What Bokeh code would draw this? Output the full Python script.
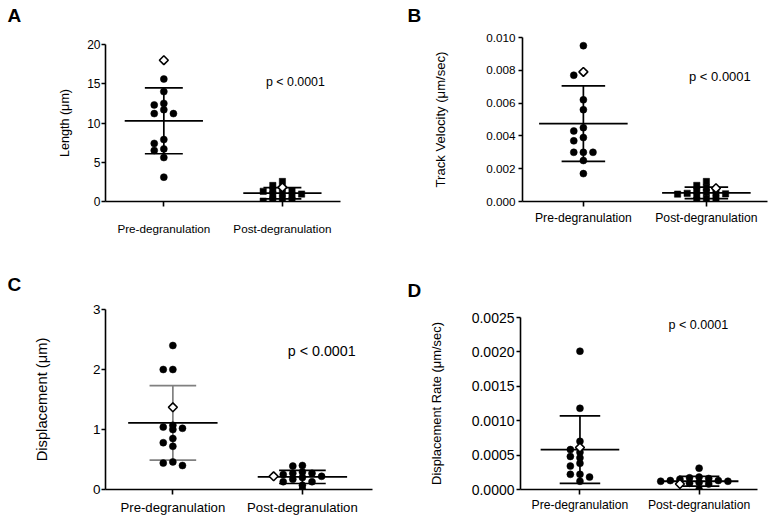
import math
from bokeh.plotting import figure
from bokeh.layouts import column, row
from bokeh.models import FixedTicker, Label, Title
from bokeh.embed import file_html
from bokeh.resources import INLINE

groups = ["Pre-degranulation", "Post-degranulation"]

# ---- A: Length (um)
length_pre = [15.6, 14.0, 12.5, 12.3, 11.7, 11.2, 11.2, 7.9, 7.4, 6.7, 6.5, 5.6, 3.1]
length_post = [2.55, 2.04, 1.45, 1.35, 1.3, 1.1, 0.95, 0.9, 0.76, 0.3, 0.2, 0.13, 0.05]
length_open = [18.0, 1.8]
length_mean = [10.28, 1.06]
length_sd = [4.2, 0.72]
length_ticks = [0, 5, 10, 15, 20]
length_tick_labels = ["0", "5", "10", "15", "20"]

# ---- B: Track velocity (um/sec)
velocity_pre = [0.0095, 0.0077, 0.0062, 0.0056, 0.0045, 0.0043, 0.0039, 0.0037,
                0.0030, 0.0030, 0.0030, 0.0025, 0.0017]
velocity_post = [0.00122, 0.00098, 0.00085, 0.00065, 0.00055, 0.00053, 0.0005,
                 0.00047, 0.00045, 0.00037, 0.00016, 0.00016, 0.00006]
velocity_open = [0.0079, 0.00081]
velocity_mean = [0.00475, 0.00053]
velocity_sd = [0.0023, 0.00035]
velocity_ticks = [0.0, 0.002, 0.004, 0.006, 0.008, 0.010]
velocity_tick_labels = ["0.000", "0.002", "0.004", "0.006", "0.008", "0.010"]

# ---- C: Displacement (um)
disp_pre = [2.4, 2.0, 2.0, 1.07, 1.04, 1.02, 1.0, 0.85, 0.78, 0.72, 0.46, 0.44, 0.40]
disp_post = [0.40, 0.39, 0.29, 0.27, 0.27, 0.25, 0.22, 0.20, 0.17, 0.13, 0.13, 0.07, 0.0]
disp_open = [1.37, 0.22]
disp_mean = [1.11, 0.21]
disp_sd = [0.62, 0.11]
disp_ticks = [0, 1, 2, 3]
disp_tick_labels = ["0", "1", "2", "3"]

# ---- D: Displacement rate (um/sec)
rate_pre = [0.00201, 0.00118, 0.00070, 0.00058, 0.00054, 0.00048, 0.00046, 0.00038,
            0.00034, 0.00022, 0.00022, 0.00018, 0.00012]
rate_post = [0.00031, 0.00018, 0.00017, 0.00016, 0.00015, 0.00013, 0.00013, 0.00012,
             0.00012, 0.00010, 0.00009, 0.00008, 0.0]
rate_open = [0.00061, 0.00008]
rate_mean = [0.00058, 0.00012]
rate_sd = [0.00049, 0.00007]
rate_ticks = [0.0, 0.0005, 0.0010, 0.0015, 0.0020, 0.0025]
rate_tick_labels = ["0.0000", "0.0005", "0.0010", "0.0015", "0.0020", "0.0025"]

p_text = "p < 0.0001"
FONT = "Liberation Sans"

panels = [
    dict(letter="A", ylabel="Length (\u03bcm)", pre=length_pre, post=length_post,
         open=length_open, mean=length_mean, sd=length_sd, ticks=length_ticks,
         tick_labels=length_tick_labels, ymax=20,
         w=387, h=250, fl=105, ft=44, fb=201, fr=340, xr=(0.508, 2.49),
         xfs="11.7px", yfs="12px", lfs="12.6px", pfs="12.4px",
         xso=15, yso=1, lso=12, mhw=0.33, chw=0.16, post_marker="square",
         err_colors=["black", "black"], ppos=(2.11, 15.2),
         loff=-98, lbase=20.7),
    dict(letter="B", ylabel="Track Velocity (\u03bcm/sec)", pre=velocity_pre, post=velocity_post,
         open=velocity_open, mean=velocity_mean, sd=velocity_sd, ticks=velocity_ticks,
         tick_labels=velocity_tick_labels, ymax=0.010,
         w=387, h=250, fl=135, ft=37, fb=201, fr=380, xr=(0.505, 2.497),
         xfs="12.2px", yfs="11.7px", lfs="13.1px", pfs="13px",
         xso=4, yso=3, lso=35, mhw=0.36, chw=0.177, post_marker="square",
         err_colors=["black", "black"], ppos=(2.11, 0.0076),
         loff=-115, lbase=20.7),
    dict(letter="C", ylabel="Displacement (\u03bcm)", pre=disp_pre, post=disp_post,
         open=disp_open, mean=disp_mean, sd=disp_sd, ticks=disp_ticks,
         tick_labels=disp_tick_labels, ymax=3,
         w=387, h=270, fl=105, ft=59, fb=239, fr=372, xr=(0.48, 2.541),
         xfs="13.2px", yfs="13.5px", lfs="14.7px", pfs="14.3px",
         xso=5, yso=1, lso=40, mhw=0.345, chw=0.18, post_marker="circle",
         err_colors=["#808080", "black"], ppos=(2.149, 2.31),
         loff=-98, lbase=39.3),
    dict(letter="D", ylabel="Displacement Rate (\u03bcm/sec)", pre=rate_pre, post=rate_post,
         open=rate_open, mean=rate_mean, sd=rate_sd, ticks=rate_ticks,
         tick_labels=rate_tick_labels, ymax=0.0025,
         w=387, h=270, fl=133, ft=67, fb=239, fr=370, xr=(0.501, 2.49),
         xfs="12.2px", yfs="14px", lfs="12.9px", pfs="12.6px",
         xso=3, yso=2, lso=25, mhw=0.33, chw=0.17, post_marker="circle",
         err_colors=["black", "black"], ppos=(1.994, 0.00239),
         loff=-113, lbase=45),
]


def swarm(values, ppy, slot, thr=4.2):
    """Greedy dot-plot placement: each point takes the nearest free column."""
    order = sorted(range(len(values)), key=lambda i: -values[i])
    placed = []
    ks = [0] * len(values)
    cands = [0]
    for n in range(1, 10):
        cands += [-n, n]
    for i in order:
        ypx = values[i] * ppy
        for c in cands:
            if all(not (pk == c and abs(py - ypx) < thr) for pk, py in placed):
                break
        placed.append((c, ypx))
        ks[i] = c
    return [k * slot for k in ks]


def make_panel(c):
    x0, x1 = c["xr"]
    ymax = c["ymax"]
    fw = c["fr"] - c["fl"]
    fh = c["fb"] - c["ft"]
    ppx = fw / (x1 - x0)
    ppy = fh / ymax
    p = figure(width=c["w"], height=c["h"], x_range=(x0, x1), y_range=(0, ymax),
               output_backend="svg", toolbar_location=None, title=None,
               min_border_left=c["fl"], min_border_top=c["ft"],
               min_border_bottom=c["h"] - c["fb"], min_border_right=c["w"] - c["fr"])
    try:
        p.frame_align = False
    except Exception:
        pass
    p.outline_line_color = None
    p.grid.visible = False
    p.background_fill_color = "white"
    p.border_fill_color = "white"

    for ax in (p.xaxis[0], p.yaxis[0]):
        ax.axis_line_width = 1.6
        ax.axis_line_color = "black"
        ax.major_tick_line_width = 1.6
        ax.major_tick_line_color = "black"
        ax.major_tick_in = 0
        ax.major_tick_out = 4
        ax.minor_tick_line_color = None
        ax.major_label_text_font = FONT
        ax.major_label_text_color = "black"
    p.xaxis.ticker = FixedTicker(ticks=[1, 2])
    p.xaxis.major_label_overrides = {1: groups[0], 2: groups[1]}
    p.xaxis.major_label_text_font_size = c["xfs"]
    p.xaxis.major_label_standoff = c["xso"]
    p.xaxis.major_tick_out = 5
    p.yaxis.ticker = FixedTicker(ticks=c["ticks"])
    p.yaxis.major_label_overrides = dict(zip(c["ticks"], c["tick_labels"]))
    p.yaxis.major_label_text_font_size = c["yfs"]
    p.yaxis.major_label_standoff = c["yso"]
    p.yaxis.axis_label = c["ylabel"]
    p.yaxis.axis_label_text_font = FONT
    p.yaxis.axis_label_text_font_style = "normal"
    p.yaxis.axis_label_text_font_size = c["lfs"]
    p.yaxis.axis_label_standoff = c["lso"]
    p.yaxis.axis_label_text_color = "black"

    slot = 9.6 / ppx
    groups_vals = [c["pre"], c["post"]]
    markers = ["circle", c["post_marker"]]
    for gi, vals in enumerate(groups_vals):
        center = gi + 1
        m, s = c["mean"][gi], c["sd"][gi]
        col = c["err_colors"][gi]
        p.segment(x0=[center, center - c["chw"], center - c["chw"]],
                  y0=[m - s, m + s, m - s],
                  x1=[center, center + c["chw"], center + c["chw"]],
                  y1=[m + s, m + s, m - s],
                  line_color=col, line_width=1.7)
        p.segment(x0=[center - c["mhw"]], y0=[m], x1=[center + c["mhw"]], y1=[m],
                  line_color="black", line_width=1.8)
        allv = list(vals) + [c["open"][gi]]
        offs = swarm(allv, ppy, slot)
        xs = [center + o for o in offs[:-1]]
        size = 7 if markers[gi] == "circle" else 6.3
        p.scatter(x=xs, y=list(vals), marker=markers[gi], size=size,
                  fill_color="black", line_color="black", line_width=0.5)
        p.scatter(x=[center + offs[-1]], y=[c["open"][gi]], marker="square",
                  angle=math.pi / 4, size=6.3, fill_color="white",
                  line_color="black", line_width=1.6)

    p.add_layout(Label(x=c["ppos"][0], y=c["ppos"][1], text=p_text,
                       text_font=FONT, text_font_size=c["pfs"], text_color="black",
                       text_align="center", text_baseline="middle"))
    # white spacer title next to the frame, then the panel letter above it
    gap = c["ft"] - (c["lbase"] + 3.5)
    p.add_layout(Title(text=".", text_font=FONT, text_font_size="10px",
                       text_color="white", standoff=max(gap - 11.2, 0)), "above")
    p.add_layout(Title(text=c["letter"], text_font=FONT, text_font_size="19px",
                       text_font_style="bold", text_color="black", align="left",
                       offset=c["loff"], standoff=0), "above")
    return p


figs = [make_panel(c) for c in panels]
layout = column(row(figs[0], figs[1]), row(figs[2], figs[3]))

open("out.html", "w").write(file_html(layout, INLINE))
